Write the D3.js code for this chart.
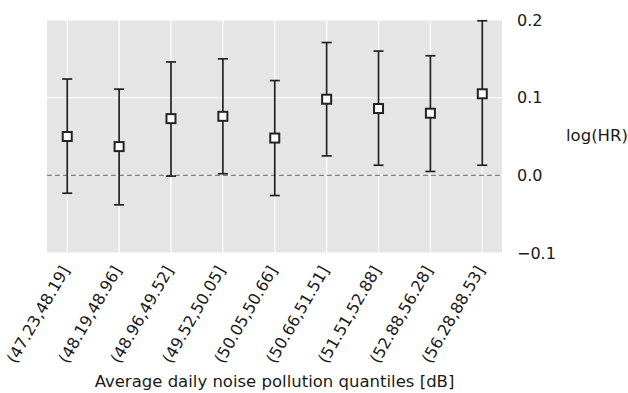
<!DOCTYPE html>
<html>
<head>
<meta charset="utf-8">
<script src="https://cdn.jsdelivr.net/npm/d3@7"></script>
<style>
  html, body { margin: 0; padding: 0; background: #fff; }
  svg { display: block; font-family: "DejaVu Sans", sans-serif; }
</style>
</head>
<body>
<div id="chart"></div>
<script>
// quantile bins of noise exposure
const categories = ['(47.23,48.19]', '(48.19,48.96]', '(48.96,49.52]', '(49.52,50.05]',
  '(50.05,50.66]', '(50.66,51.51]', '(51.51,52.88]', '(52.88,56.28]', '(56.28,88.53]'];
const logHR = [0.050, 0.037, 0.073, 0.076, 0.048, 0.098, 0.086, 0.080, 0.105];
const lower = [-0.023, -0.038, -0.001, 0.002, -0.026, 0.025, 0.013, 0.005, 0.013];
const upper = [0.124, 0.111, 0.146, 0.150, 0.122, 0.171, 0.160, 0.154, 0.199];
const yTicks = [-0.1, 0.0, 0.1, 0.2];

const width = 628, height = 393;
const margin = { top: 20, right: 126, bottom: 140, left: 47 };
const innerW = width - margin.left - margin.right;
const innerH = height - margin.top - margin.bottom;

const svg = d3.select('#chart').append('svg')
  .attr('width', width)
  .attr('height', height);

const g = svg.append('g')
  .attr('transform', `translate(${margin.left},${margin.top})`);

const data = categories.map((c, i) => ({ c, i, v: logHR[i], lo: lower[i], hi: upper[i] }));

const x = d3.scaleLinear()
  .domain([-0.39, categories.length - 1 + 0.38])
  .range([0, innerW]);

const y = d3.scaleLinear()
  .domain([-0.1, 0.2])
  .range([innerH, 0]);

// background
g.append('rect')
  .attr('width', innerW)
  .attr('height', innerH)
  .attr('fill', '#e5e5e5');

// grid
g.selectAll('line.vgrid')
  .data(data)
  .enter()
  .append('line')
  .attr('class', 'vgrid')
  .attr('x1', d => x(d.i)).attr('x2', d => x(d.i))
  .attr('y1', 0).attr('y2', innerH)
  .attr('stroke', '#fff')
  .attr('stroke-width', 1.2);

g.selectAll('line.hgrid')
  .data(yTicks)
  .enter()
  .append('line')
  .attr('class', 'hgrid')
  .attr('x1', 0).attr('x2', innerW)
  .attr('y1', d => y(d)).attr('y2', d => y(d))
  .attr('stroke', '#fff')
  .attr('stroke-width', 1.2);

// reference line at zero
g.append('line')
  .attr('x1', 0).attr('x2', innerW)
  .attr('y1', y(0)).attr('y2', y(0))
  .attr('stroke', '#808080')
  .attr('stroke-width', 1.3)
  .attr('stroke-dasharray', '5,3');

// error bars
const capW = 5;
g.selectAll('line.err')
  .data(data)
  .enter()
  .append('line')
  .attr('class', 'err')
  .attr('x1', d => x(d.i)).attr('x2', d => x(d.i))
  .attr('y1', d => y(d.lo)).attr('y2', d => y(d.hi))
  .attr('stroke', '#222')
  .attr('stroke-width', 1.7);

['lo', 'hi'].forEach(k => {
  g.selectAll(`line.cap-${k}`)
    .data(data)
    .enter()
    .append('line')
    .attr('class', `cap-${k}`)
    .attr('x1', d => x(d.i) - capW).attr('x2', d => x(d.i) + capW)
    .attr('y1', d => y(d[k])).attr('y2', d => y(d[k]))
    .attr('stroke', '#222')
    .attr('stroke-width', 1.7);
});

// markers
const ms = 9;
g.selectAll('rect.pt')
  .data(data)
  .enter()
  .append('rect')
  .attr('class', 'pt')
  .attr('x', d => x(d.i) - ms / 2)
  .attr('y', d => y(d.v) - ms / 2)
  .attr('width', ms)
  .attr('height', ms)
  .attr('fill', '#fff')
  .attr('stroke', '#222')
  .attr('stroke-width', 2);

// right y axis
const yAxis = d3.axisRight(y)
  .tickValues(yTicks)
  .tickSize(0)
  .tickPadding(15)
  .tickFormat(d => d3.format('.1f')(d).replace('-', '\u2212'));

g.append('g')
  .attr('transform', `translate(${innerW},0)`)
  .call(yAxis)
  .call(s => s.select('.domain').remove())
  .selectAll('text')
  .attr('font-family', '"DejaVu Sans", sans-serif')
  .style('font-size', '16px')
  .style('fill', '#1a1a1a');

// x tick labels, rotated
g.selectAll('text.xtick')
  .data(data)
  .enter()
  .append('text')
  .attr('class', 'xtick')
  .attr('transform', d => `translate(${x(d.i) + 3},${innerH + 17}) rotate(-60)`)
  .attr('text-anchor', 'end')
  .style('font-size', '16px')
  .style('fill', '#1a1a1a')
  .text(d => d.c);

// axis titles
svg.append('text')
  .attr('x', margin.left + innerW / 2)
  .attr('y', 387)
  .attr('text-anchor', 'middle')
  .style('font-size', '16.5px')
  .style('fill', '#1a1a1a')
  .text('Average daily noise pollution quantiles [dB]');

svg.append('text')
  .attr('x', 566)
  .attr('y', 141)
  .style('font-size', '16.5px')
  .style('fill', '#1a1a1a')
  .text('log(HR)');
</script>
</body>
</html>
